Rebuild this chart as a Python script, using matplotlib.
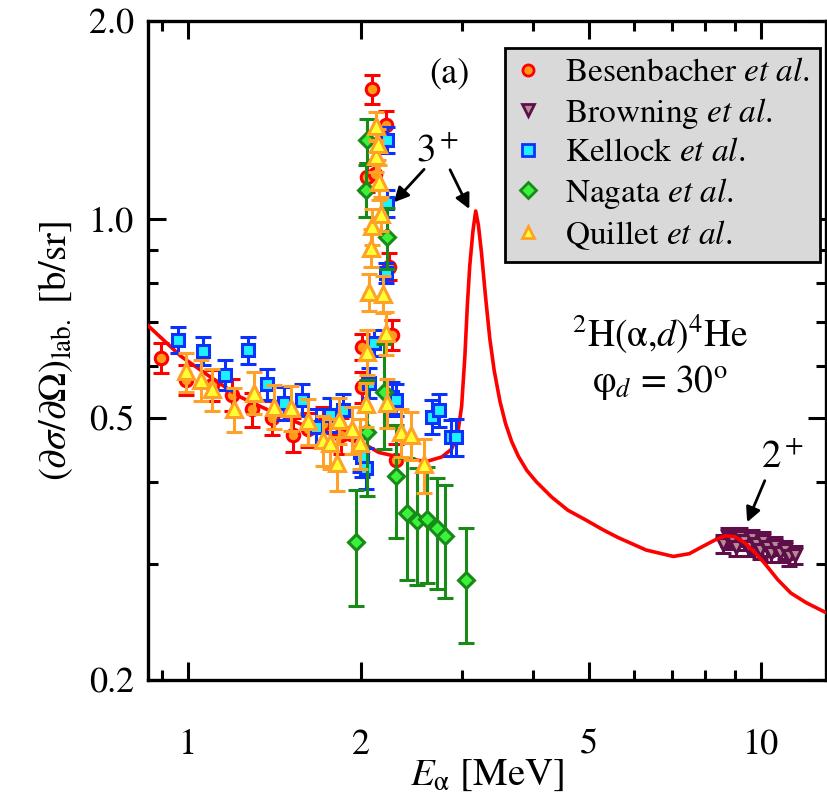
import matplotlib
matplotlib.use("Agg")
import matplotlib.pyplot as plt
from matplotlib.ticker import FixedLocator, NullFormatter

# === FONTS ===
plt.rcParams["font.family"] = ["STIXGeneral", "Liberation Serif", "DejaVu Serif"]
plt.rcParams["mathtext.fontset"] = "stix"

# === DATA ===
# theory curve
curve_x = [0.85, 0.97, 1.11, 1.23, 1.41, 1.61, 1.80, 2.04, 2.15, 2.33, 2.60, 2.77,
           2.88, 2.95, 3.00, 3.04, 3.07, 3.10, 3.14, 3.175, 3.21, 3.25, 3.30, 3.36,
           3.42, 3.50, 3.58, 3.67, 3.77, 3.90, 4.05, 4.31, 4.60, 4.94, 5.30, 5.63,
           6.30, 7.03, 7.50, 7.86, 8.30, 8.66, 9.00, 9.37, 9.80, 10.14, 10.70, 11.28,
           12.0, 13.0]
curve_y = [0.69, 0.62, 0.571, 0.538, 0.509, 0.485, 0.47, 0.455, 0.443, 0.436, 0.429, 0.436,
           0.448, 0.47, 0.52, 0.62, 0.74, 0.85, 0.96, 1.03, 0.98, 0.89, 0.77, 0.66,
           0.59, 0.53, 0.49, 0.46, 0.437, 0.416, 0.40, 0.379, 0.362, 0.350, 0.338, 0.329,
           0.315, 0.308, 0.311, 0.318, 0.326, 0.331, 0.330, 0.323, 0.311, 0.301, 0.284, 0.271,
           0.262, 0.253]

bes_x = [0.897, 0.99, 1.10, 1.19, 1.29, 1.40, 1.52, 1.62, 1.72, 1.85, 2.01, 2.01,
         2.05, 2.09, 2.12, 2.21, 2.24, 2.27, 2.30]
bes_y = [0.617, 0.571, 0.56, 0.542, 0.515, 0.50, 0.471, 0.48, 0.49, 0.47, 0.556, 0.641,
         1.16, 1.576, 1.17, 1.39, 0.848, 0.668, 0.432]
bes_err = [0.033, 0.03, 0.03, 0.03, 0.03, 0.03, 0.028, 0.028, 0.03, 0.03, 0.03, 0.03,
           0.06, 0.08, 0.06, 0.07, 0.04, 0.035, 0.025]

bro_x = [8.6, 8.75, 8.9, 9.05, 9.2, 9.35, 9.5, 9.65, 9.8, 9.95, 10.1, 10.25,
         10.4, 10.6, 10.8, 11.0, 11.2, 11.45]
bro_y = [0.322, 0.33, 0.326, 0.318, 0.33, 0.325, 0.318, 0.328, 0.322, 0.315, 0.325, 0.318,
         0.312, 0.32, 0.312, 0.315, 0.308, 0.31]
bro_err = [0.01] * len(bro_x)

kel_x = [0.957, 1.06, 1.16, 1.27, 1.37, 1.47, 1.58, 1.67, 1.77, 1.86, 1.99, 2.01,
         2.04, 2.07, 2.11, 2.21, 2.22, 2.22, 2.27, 2.30, 2.66, 2.74, 2.87, 2.93]
kel_y = [0.657, 0.632, 0.581, 0.634, 0.562, 0.527, 0.533, 0.485, 0.505, 0.514, 0.443, 0.436,
         0.42, 0.565, 0.65, 0.83, 1.06, 1.32, 0.537, 0.533, 0.502, 0.514, 0.467, 0.468]
kel_err = [0.03] * 16 + [0.05, 0.06] + [0.03] * 6

nag_x = [1.962, 2.04, 2.05, 2.05, 2.195, 2.22, 2.30, 2.41, 2.506, 2.61, 2.715, 2.81, 3.05]
nag_y = [0.324, 1.11, 1.32, 0.476, 0.548, 0.94, 0.408, 0.359, 0.349, 0.351, 0.340, 0.331, 0.284]
nag_err = [0.065, 0.1, 0.1, 0.095, 0.1, 0.1, 0.08, 0.075, 0.07, 0.07, 0.065, 0.065, 0.056]

qui_x = [0.99, 1.05, 1.10, 1.20, 1.30, 1.41, 1.51, 1.62, 1.72, 1.77, 1.83, 1.82,
         1.93, 1.99, 2.04, 2.05, 2.07, 2.08, 2.09, 2.13, 2.13, 2.14, 2.15, 2.17,
         2.19, 2.21, 2.22, 2.35, 2.45, 2.58]
qui_y = [0.588, 0.571, 0.552, 0.515, 0.546, 0.520, 0.518, 0.494, 0.463, 0.458, 0.496, 0.427,
         0.48, 0.458, 0.524, 0.63, 0.775, 0.906, 0.976, 1.25, 1.385, 1.30, 1.14, 1.02,
         0.77, 0.673, 0.527, 0.476, 0.471, 0.425]
qui_err = [0.04] * 15 + [0.05, 0.05, 0.06, 0.06, 0.07, 0.07, 0.07, 0.07, 0.06,
                         0.05, 0.05, 0.045, 0.04, 0.04, 0.04]

# === STYLES ===
SERIES = [
    ("Besenbacher", bes_x, bes_y, bes_err, "o", "#ff0000", "#ff9a1a", 9),
    ("Browning", bro_x, bro_y, bro_err, "v", "#5e0f4a", "#b48c94", 8.5),
    ("Kellock", kel_x, kel_y, kel_err, "s", "#0a32ff", "#1ff0ff", 8),
    ("Nagata", nag_x, nag_y, nag_err, "D", "#178a17", "#3cf03c", 8),
    ("Quillet", qui_x, qui_y, qui_err, "^", "#ffa126", "#ffff33", 11),
]

# === PLOT ===
fig = plt.figure(figsize=(8.27, 7.92), dpi=100)
ax = fig.add_axes([0.179, 0.1414, 0.820, 0.832])

handles = []
for i, (name, xs, ys, es, mk, ec, fc, ms) in enumerate(SERIES):
    ax.errorbar(xs, ys, yerr=es, fmt=mk, color=ec, mfc=fc, mec=ec, mew=2.2,
                ms=ms, elinewidth=2.2, capsize=6, capthick=2.2, zorder=3 + i)
    h, = ax.plot([], [], mk, color=ec, mfc=fc, mec=ec, mew=2.0, ms=8,
                 label=name + r" $\it{et\ al}$.")
    handles.append(h)

ax.plot(curve_x, curve_y, color="#ff0000", lw=2.6, zorder=4.5)

ax.set_xscale("log")
ax.set_yscale("log")
ax.set_xlim(0.85, 13.0)
ax.set_ylim(0.2, 2.0)

ax.xaxis.set_major_locator(FixedLocator([1, 2, 5, 10]))
ax.xaxis.set_minor_locator(FixedLocator([0.9, 3, 4, 6, 7, 8, 9]))
ax.set_xticklabels(["1", "2", "5", "10"])
ax.yaxis.set_major_locator(FixedLocator([0.2, 0.5, 1.0, 2.0]))
ax.yaxis.set_minor_locator(FixedLocator([0.3, 0.4, 0.6, 0.7, 0.8, 0.9]))
ax.set_yticklabels(["0.2", "0.5", "1.0", "2.0"])
ax.xaxis.set_minor_formatter(NullFormatter())
ax.yaxis.set_minor_formatter(NullFormatter())

ax.tick_params(which="both", direction="in", top=True, right=True, width=2.2,
               labelsize=26)
ax.tick_params(which="major", length=13)
ax.tick_params(which="minor", length=7)
ax.tick_params(axis="x", pad=35)
ax.tick_params(axis="y", pad=10)
for s in ax.spines.values():
    s.set_linewidth(2.4)

ax.set_xlabel(r"$E_{\mathrm{\alpha}}$ [MeV]", fontsize=28, labelpad=-3)
ax.set_ylabel(r"$(\partial\sigma/\partial\Omega)_{\rm lab.}$ [b/sr]", fontsize=28,
              labelpad=10)

leg = ax.legend(handles=handles, loc="upper right", fontsize=24, frameon=True,
                fancybox=False, edgecolor="black", facecolor="#d9d9d9",
                framealpha=1.0, handlelength=0.8, handletextpad=0.7,
                labelspacing=0.22, borderpad=0.3, borderaxespad=0.0,
                bbox_to_anchor=(0.991, 0.959))
leg.get_frame().set_linewidth(2.0)
leg.set_zorder(20)

ax.text(0.445, 0.918, "(a)", transform=ax.transAxes, fontsize=26,
        ha="center", va="center")
ax.text(0.755, 0.524, r"$^{2}$H($\mathrm{\alpha}$,$d$)$^{4}$He", transform=ax.transAxes,
        fontsize=27, ha="center", va="center")
ax.text(0.755, 0.451, r"$\mathrm{\varphi}_d$ = 30$^{\rm o}$", transform=ax.transAxes,
        fontsize=27, ha="center", va="center")

arrow = dict(arrowstyle="-|>", color="black", lw=2.0, mutation_scale=22)
ax.text(2.72, 1.27, r"3$^+$", fontsize=28, ha="center", va="center")
ax.annotate("", xy=(2.267, 1.054), xytext=(2.60, 1.20), arrowprops=arrow)
ax.annotate("", xy=(3.11, 1.028), xytext=(2.85, 1.20), arrowprops=arrow)
ax.text(10.9, 0.435, r"2$^+$", fontsize=28, ha="center", va="center")
ax.annotate("", xy=(9.42, 0.344), xytext=(10.2, 0.405), arrowprops=arrow)

fig.savefig("out.png", dpi=100)
print("Saved chart to out.png")
